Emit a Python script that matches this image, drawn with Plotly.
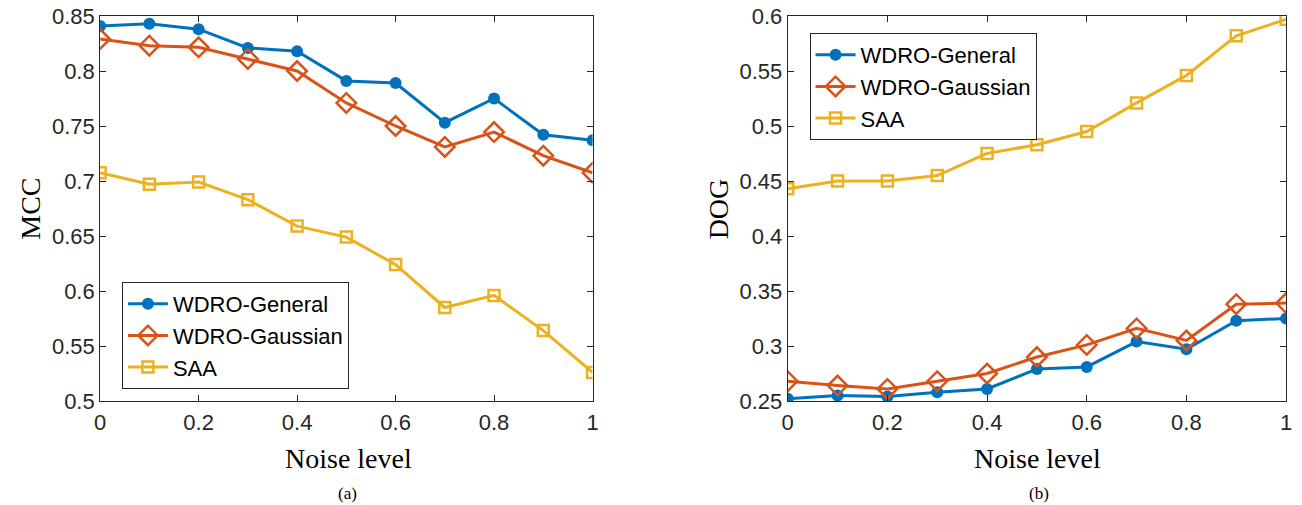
import plotly.graph_objects as go

noise = [0, 0.1, 0.2, 0.3, 0.4, 0.5, 0.6, 0.7, 0.8, 0.9, 1.0]

mcc_general = [0.841, 0.843, 0.838, 0.821, 0.818, 0.791, 0.789, 0.753, 0.775, 0.742, 0.737]
mcc_gaussian = [0.829, 0.823, 0.8215, 0.811, 0.800, 0.771, 0.750, 0.731, 0.7445, 0.723, 0.7075]
mcc_saa = [0.7075, 0.697, 0.699, 0.683, 0.659, 0.649, 0.624, 0.585, 0.596, 0.564, 0.526]

dog_general = [0.252, 0.255, 0.254, 0.258, 0.261, 0.279, 0.281, 0.304, 0.297, 0.323, 0.325]
dog_gaussian = [0.268, 0.264, 0.261, 0.268, 0.275, 0.290, 0.301, 0.316, 0.305, 0.338, 0.339]
dog_saa = [0.443, 0.450, 0.450, 0.455, 0.475, 0.483, 0.495, 0.521, 0.546, 0.582, 0.597]

names = ["WDRO-General", "WDRO-Gaussian", "SAA"]
colors = ["#0072BD", "#D95319", "#EDB120"]
markers = [dict(symbol="circle", size=12), dict(symbol="diamond-open", size=15, line=dict(width=2.5)),
           dict(symbol="square-open", size=11, line=dict(width=2.5))]

x_ticks = [0, 0.2, 0.4, 0.6, 0.8, 1.0]
x_ticktext = ["0", "0.2", "0.4", "0.6", "0.8", "1"]
mcc_ticks = [0.5, 0.55, 0.6, 0.65, 0.7, 0.75, 0.8, 0.85]
mcc_ticktext = ["0.5", "0.55", "0.6", "0.65", "0.7", "0.75", "0.8", "0.85"]
dog_ticks = [0.25, 0.3, 0.35, 0.4, 0.45, 0.5, 0.55, 0.6]
dog_ticktext = ["0.25", "0.3", "0.35", "0.4", "0.45", "0.5", "0.55", "0.6"]

fig = go.Figure()

for i, ys in enumerate([mcc_general, mcc_gaussian, mcc_saa]):
    fig.add_trace(go.Scatter(x=noise, y=ys, mode="lines+markers", name=names[i],
                             line=dict(color=colors[i], width=3),
                             marker=dict(color=colors[i], **markers[i]),
                             xaxis="x", yaxis="y", legend="legend"))
for i, ys in enumerate([dog_general, dog_gaussian, dog_saa]):
    fig.add_trace(go.Scatter(x=noise, y=ys, mode="lines+markers", name=names[i],
                             line=dict(color=colors[i], width=3),
                             marker=dict(color=colors[i], **markers[i]),
                             xaxis="x2", yaxis="y2", legend="legend2"))

W, H = 1302, 505
TOP, PH = 16, 385
axcommon = dict(showline=True, linecolor="#262626", linewidth=1, mirror="ticks",
                ticks="inside", ticklen=6, tickcolor="#262626", showgrid=False, zeroline=False,
                tickfont=dict(family="Liberation Sans, Arial", size=22, color="#262626"))

def py(ypix):
    return 1 - (ypix - TOP) / PH

legfont = dict(family="Liberation Sans, Arial", size=22, color="black")
fig.update_layout(
    width=W, height=H,
    margin=dict(l=0, r=0, t=TOP, b=H - TOP - PH),
    plot_bgcolor="white", paper_bgcolor="white",
    xaxis=dict(domain=[95 / W, 592 / W], range=[0, 1], tickvals=x_ticks, ticktext=x_ticktext, anchor="y",
               ticklabelstandoff=2, **axcommon),
    yaxis=dict(domain=[0, 1], range=[0.5, 0.85], tickvals=mcc_ticks, ticktext=mcc_ticktext, anchor="x", **axcommon),
    xaxis2=dict(domain=[789 / W, 1292 / W], range=[0, 1], tickvals=x_ticks, ticktext=x_ticktext, anchor="y2",
                ticklabelstandoff=2, **axcommon),
    yaxis2=dict(domain=[0, 1], range=[0.25, 0.6], tickvals=dog_ticks, ticktext=dog_ticktext, anchor="x2", **axcommon),
    legend=dict(x=117 / W, y=py(282), xref="paper", yref="paper", xanchor="left", yanchor="top",
                bordercolor="#262626", borderwidth=1, bgcolor="white", font=legfont,
                tracegroupgap=0, itemwidth=40),
    legend2=dict(x=811 / W, y=py(33), xref="paper", yref="paper", xanchor="left", yanchor="top",
                 bordercolor="#262626", borderwidth=1, bgcolor="white", font=legfont,
                 tracegroupgap=0, itemwidth=40),
)

serif = dict(family="Liberation Serif, Times New Roman", size=28, color="black")
annotations = [
    dict(text="MCC", x=25 / W, y=209, textangle=-90),
    dict(text="DOG", x=720 / W, y=209, textangle=-90),
    dict(text="Noise level", x=346 / W, y=458),
    dict(text="Noise level", x=1041 / W, y=458),
]
for a in annotations:
    fig.add_annotation(text=a["text"], x=a["x"], y=py(a["y"]), xref="paper", yref="paper",
                       showarrow=False, textangle=a.get("textangle", 0), font=serif,
                       xanchor="center", yanchor="middle")
for txt, xc in [("(a)", 345), ("(b)", 1043)]:
    fig.add_annotation(text=txt, x=xc / W, y=py(493), xref="paper", yref="paper",
                       showarrow=False, font=dict(family="Liberation Serif, Times New Roman", size=17, color="black"),
                       xanchor="center", yanchor="middle")

fig.write_html("out.html")
